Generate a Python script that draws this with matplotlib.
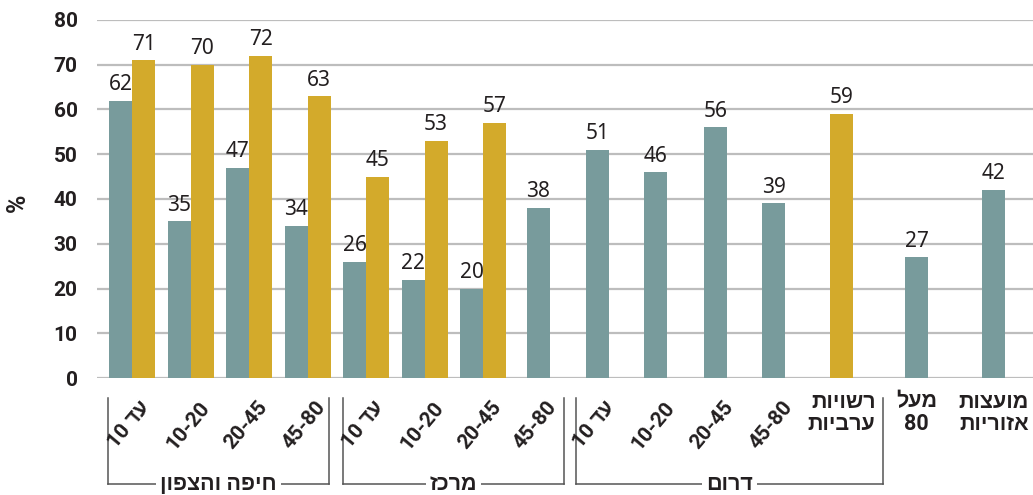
import numpy as np
import matplotlib
matplotlib.use("Agg")
import matplotlib.pyplot as plt
from matplotlib.lines import Line2D
from matplotlib.transforms import blended_transform_factory

plt.rcParams['font.family'] = ['Noto Sans', 'Liberation Sans', 'DejaVu Sans']
BOLD = ['Roboto', 'Liberation Sans', 'DejaVu Sans']


def vis(s):
    # matplotlib has no bidi: flip word order and hebrew letters by hand
    lines = []
    for line in s.split("\n"):
        words = line.split(" ")[::-1]
        words = [w[::-1] if any('\u0590' <= c <= '\u05ff' for c in w) else w for w in words]
        lines.append(" ".join(words))
    return "\n".join(lines)


cats = ["עד 10", "10-20", "20-45", "45-80",
        "עד 10", "10-20", "20-45", "45-80",
        "עד 10", "10-20", "20-45", "45-80",
        "רשויות\nערביות", "מעל\n80", "מועצות\nאזוריות"]
teal_vals = [62, 35, 47, 34, 26, 22, 20, 38, 51, 46, 56, 39, None, 27, 42]
gold_vals = [71, 70, 72, 63, 45, 53, 57, None, None, None, None, None, 59, None, None]
groups = ["חיפה והצפון", "מרכז", "דרום"]
group_span = [(-0.41, 3.37), (3.61, 7.38), (7.59, 12.84)]

slot_x = [0, 1, 2, 3, 4, 5, 6, 6.94, 7.95, 8.95, 9.97, 10.97, 12.13, 13.41, 14.73]

teal = "#789b9c"
gold = "#d3aa2b"
txt = "#231f20"
w = 0.393

fig = plt.figure(figsize=(10.33, 4.95), dpi=100)
ax = fig.add_axes([97 / 1033, 117 / 495, 936 / 1033, 358 / 495])

for i, x in enumerate(slot_x):
    t, g = teal_vals[i], gold_vals[i]
    if t is not None and g is not None:
        bars = [(x - w / 2, t, teal), (x + w / 2, g, gold)]
    elif t is not None:
        bars = [(x, t, teal)]
    else:
        bars = [(x, g, gold)]
    for bx, v, c in bars:
        ax.bar(bx, v, width=w, color=c, zorder=3)
        ax.annotate(str(v), (bx, v), xytext=(0, 4), textcoords="offset points",
                    ha="center", va="bottom", fontsize=15, color=txt)

ax.set_xlim(-0.6, 15.4)
ax.set_ylim(0, 80)
ax.set_yticks(np.arange(0, 81, 10))
ax.set_xticks([])
ax.yaxis.grid(True, color="#bdbdbd", lw=1.6, zorder=0)
for s in ax.spines.values():
    s.set_visible(False)
ax.tick_params(axis="y", length=0, pad=14, labelcolor=txt)
for lab in ax.get_yticklabels():
    lab.set_fontweight("bold")
    lab.set_family(BOLD)
    lab.set_fontsize(15)

fig.text(18 / 1033, 1 - 203 / 495, "%", rotation=90, ha="center", va="center",
         fontsize=18, fontweight="bold", family=BOLD, color=txt)

tr = blended_transform_factory(ax.transData, ax.transAxes)

for i, x in enumerate(slot_x):
    if i < 12:
        ax.text(x - 0.05, -0.056, vis(cats[i]), transform=tr, rotation=50,
                ha="center", va="top", fontsize=15, fontweight="bold",
                family=BOLD, color=txt)
    else:
        ax.text(x, -0.035, vis(cats[i]), transform=tr, ha="center", va="top",
                multialignment="right" if i == 12 else "center",
                fontsize=15.5, fontweight="bold", family=BOLD, color=txt,
                linespacing=1.05)

y_top, y_bot = -0.056, -0.296
for name, (a, b) in zip(groups, group_span):
    for xs, ys in [([a, a], [y_top, y_bot]), ([b, b], [y_top, y_bot]), ([a, b], [y_bot, y_bot])]:
        ax.add_line(Line2D(xs, ys, transform=tr, color="#555555", lw=1.1, clip_on=False))
    ax.text((a + b) / 2, y_bot, vis(name), transform=tr, ha="center", va="center",
            fontsize=15.5, fontweight="bold", family=BOLD, color=txt,
            bbox=dict(facecolor="white", edgecolor="none", pad=3))

fig.savefig("out.png", dpi=100)
